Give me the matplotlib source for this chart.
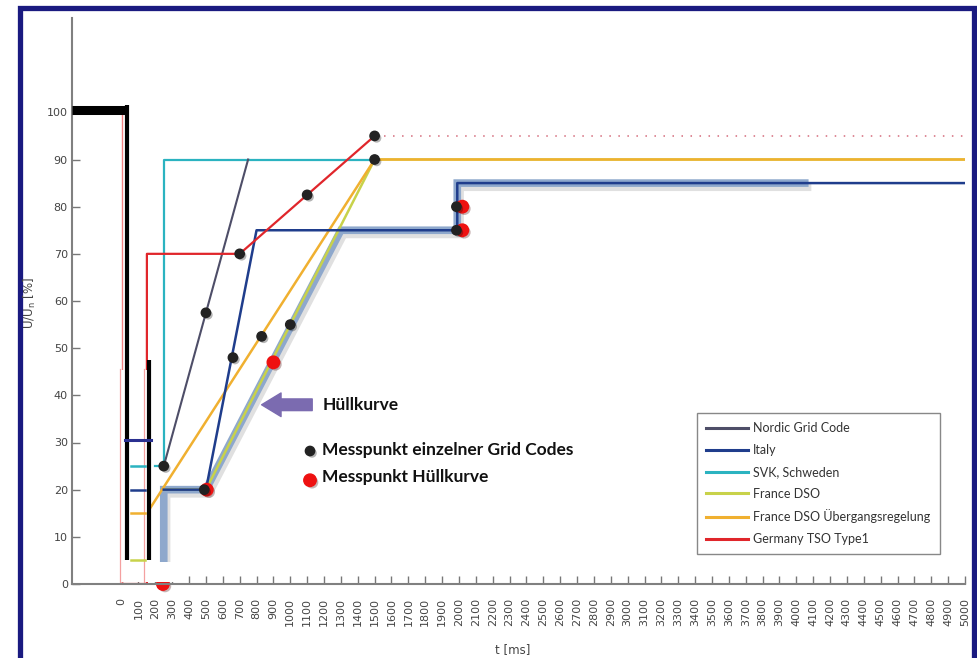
import matplotlib
matplotlib.use("Agg")
import matplotlib.pyplot as plt
import matplotlib.patheffects as pe
from matplotlib.patches import Rectangle

# --- grid code curves (t in ms, U/Un in %) ---
nordic_t = [250, 750]
nordic_u = [25, 90]
italy_t = [250, 500, 800, 1990, 1990, 5000]
italy_u = [20, 20, 75, 75, 85, 85]
svk_t = [200, 250, 250, 1500]
svk_u = [25, 25, 90, 90]
france_t = [250, 500, 1500, 5000]
france_u = [20, 20, 90, 90]
france_ueb_t = [150, 1500, 5000]
france_ueb_u = [15, 90, 90]
germany_t = [-294, 0, 0, 150, 150, 700, 1500]
germany_u = [100, 100, 0, 0, 70, 70, 95]
germany_ext_t = [1500, 5000]
germany_ext_u = [95, 95]

# envelope (Hüllkurve)
env_t = [250, 250, 500, 1300, 1990, 1990, 4050]
env_u = [0, 20, 20, 75, 75, 85, 85]

# measurement points
pts_black_t = [250, 500, 490, 660, 700, 830, 1000, 1100, 1500, 1500, 1985, 1985]
pts_black_u = [25, 57.5, 20, 48, 70, 52.5, 55, 82.5, 95, 90, 80, 75]
pts_red_t = [245, 505, 900, 2020, 2020]
pts_red_u = [0, 20, 47, 80, 75]

# short level stubs left of the fault
stub_t = [55, 140]
stub_levels = [25, 20, 15, 5]
stub_colors = ["#2bb3c0", "#1f3d8c", "#f0b030", "#c8d24a"]
pink_t = [-10, 135]

xticks = list(range(0, 5001, 100))
yticks = list(range(0, 101, 10))

labels = ["Nordic Grid Code", "Italy", "SVK, Schweden", "France DSO",
          "France DSO Übergangsregelung", "Germany TSO Type1"]
colors = ["#4e4e68", "#1f3d8c", "#2bb3c0", "#c8d24a", "#f0b030", "#e0262b"]

fig = plt.figure(figsize=(9.77, 6.58), dpi=100)
ax = fig.add_axes([72 / 977, 74 / 658, 893 / 977, 566 / 658])
ax.set_xlim(-294, 5000)
ax.set_ylim(0, 120)
ax.set_axisbelow(True)

shadow = [pe.SimpleLineShadow(offset=(2, -3), shadow_color="#999999", alpha=0.3), pe.Normal()]
ax.plot(env_t, env_u, color="#8ea8cc", lw=5.5, solid_joinstyle="miter",
        path_effects=shadow, zorder=1.2)

ax.plot(france_t, france_u, color=colors[3], lw=1.8, zorder=1.3)
ax.plot(france_ueb_t, france_ueb_u, color=colors[4], lw=1.8, zorder=1.35)
ax.plot(italy_t, italy_u, color=colors[1], lw=1.8, zorder=1.4)
ax.plot(svk_t, svk_u, color=colors[2], lw=1.6, zorder=1.3)
ax.plot(nordic_t, nordic_u, color=colors[0], lw=1.5, zorder=1.4)
ax.plot(germany_t[:3], germany_u[:3], color="#f08080", lw=1.0, zorder=1.45)
ax.plot(germany_t[2:], germany_u[2:], color=colors[5], lw=1.6, zorder=1.45)
ax.plot(germany_ext_t, germany_ext_u, color="#d46a7a", lw=1.1,
        linestyle=(0, (1, 4.9)), zorder=1.45)

dot_shadow = [pe.SimplePatchShadow(offset=(1.5, -1.5), alpha=0.3), pe.Normal()]
ax.scatter(pts_black_t, pts_black_u, s=45, color="#222222", zorder=1.6,
           path_effects=dot_shadow, clip_on=False)
ax.scatter(pts_red_t, pts_red_u, s=80, color="#ee1111", zorder=1.55,
           path_effects=dot_shadow, clip_on=False)

# white covers at the bottom left of the curves
ax.add_patch(Rectangle((-10, 0.35), 345, 4.3, facecolor="white", edgecolor="none", zorder=2))
ax.add_patch(Rectangle((-10, 0.35), 170, 45, facecolor="white", edgecolor="none", zorder=2))
for pt in pink_t:
    ax.plot([pt, pt], [0.35, 45.5], color="#f4a0a0", lw=0.9, zorder=2.05)

for lvl, c in zip(stub_levels, stub_colors):
    ax.plot(stub_t, [lvl, lvl], color=c, lw=1.8, zorder=2.1)

# black overlay strokes
ax.plot([-294, 30], [100.4, 100.4], color="black", lw=6.5, solid_capstyle="butt", zorder=3)
ax.plot([30, 30], [101.5, 5], color="black", lw=3, solid_capstyle="butt", zorder=3)
ax.plot([162, 162], [47.5, 5], color="black", lw=3, solid_capstyle="butt", zorder=3)
ax.plot([20, 175], [30.5, 30.5], color="#2a3090", lw=2.2, zorder=3)

# legend proxies
handles = [plt.Line2D([], [], color=c, lw=2.2) for c in colors]
leg = ax.legend(handles, labels, loc="upper left",
                bbox_to_anchor=(697 / 977, 1 - 413 / 658), bbox_transform=fig.transFigure,
                borderaxespad=0, frameon=True, fancybox=False, framealpha=1,
                edgecolor="#888888", prop={"family": "Lato", "size": 9},
                labelspacing=0.78, handlelength=3.3, handletextpad=0.45,
                borderpad=0.75)
leg.get_frame().set_linewidth(1.0)
for t in leg.get_texts():
    t.set_color("#333333")

# annotations
ax.annotate("", xy=(830, 38), xytext=(1130, 38),
            arrowprops=dict(arrowstyle="simple,head_length=0.7,head_width=0.85,tail_width=0.42",
                            color="#7b6bb0", shrinkA=0, shrinkB=0, mutation_scale=20))
ax.text(1190, 38, "Hüllkurve", fontsize=12.5, fontweight="bold", family="Lato",
        va="center", color="#111111")
ax.scatter([1117], [28.2], s=45, color="#222222", path_effects=dot_shadow)
ax.text(1190, 28.5, "Messpunkt einzelner Grid Codes", fontsize=12.5, fontweight="bold",
        family="Lato", va="center", color="#111111")
ax.scatter([1117], [22], s=80, color="#ee1111", path_effects=dot_shadow)
ax.text(1190, 22.7, "Messpunkt Hüllkurve", fontsize=12.5, fontweight="bold",
        family="Lato", va="center", color="#111111")

for side in ["top", "right"]:
    ax.spines[side].set_visible(False)
for side in ["left", "bottom"]:
    ax.spines[side].set_color("#808080")
    ax.spines[side].set_linewidth(1.5)

ax.set_xticks(xticks)
ax.set_xticklabels([str(v) for v in xticks], rotation=90, fontsize=8, color="#444444")
ax.set_yticks(yticks)
ax.set_yticklabels([str(v) for v in yticks], fontsize=8, color="#444444")
ax.tick_params(axis="x", direction="in", length=5.8, width=1, color="#777777", pad=10)
ax.tick_params(axis="y", direction="in", length=5.8, width=1, color="#777777", pad=3)

fig.text(513 / 977, 1 - 650 / 658, "t [ms]", fontsize=8.5, color="#444444",
         ha="center", va="center")
fig.text(30 / 977, 1 - 303 / 658, "U/U$_{\\mathregular{n}}$ [%]", fontsize=8.5,
         color="#444444", rotation=90, ha="center", va="center")

fig.patches.append(Rectangle((19.5 / 977, -0.02), (974 - 19.5) / 977, 1.02 - 7.5 / 658,
                             transform=fig.transFigure, fill=False,
                             edgecolor="#1a1a80", lw=3.8))

fig.savefig("out.png", dpi=100)
